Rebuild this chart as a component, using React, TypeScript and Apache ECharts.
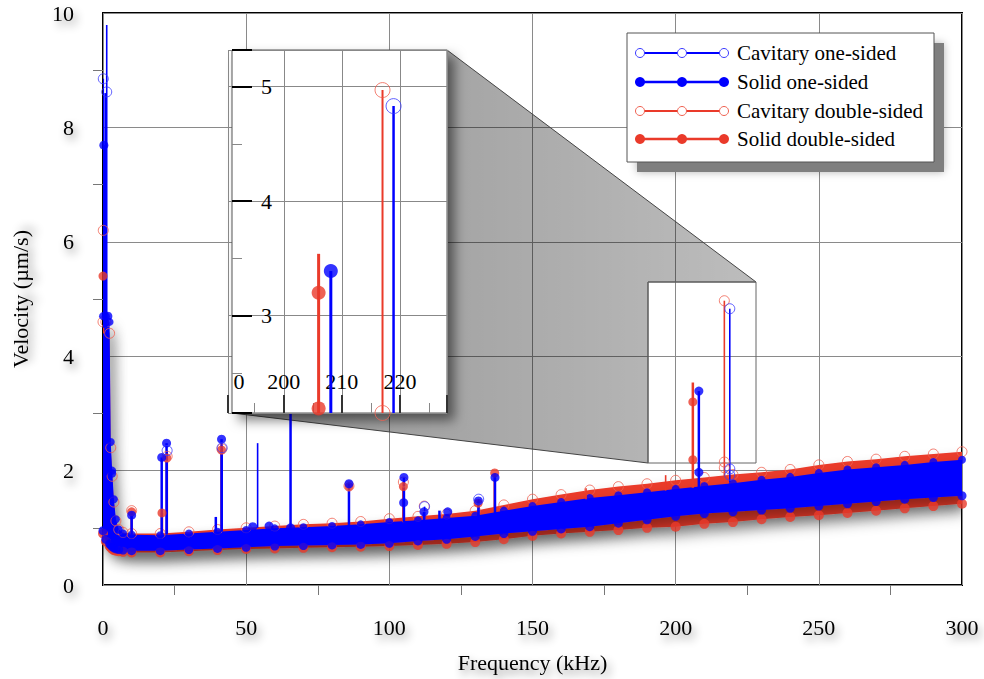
import React, { useEffect, useRef } from 'react';
import * as echarts from 'echarts';

const FONT = '"Liberation Serif", "Times New Roman", serif';
const BLUE = '#0000ff';
const BLUE_OPEN = '#3a3aff';
const RED = '#ea3a2a';
const RED_OPEN = '#f06050';

const seriesNames = ['Cavitary one-sided', 'Solid one-sided', 'Cavitary double-sided', 'Solid double-sided'];

// Broadband floor envelopes (kHz, µm/s)
const bandFreq = [0, 1, 2.3, 2.7, 3.2, 3.8, 4.5, 5.5, 7, 10, 20, 30, 40, 50, 60, 70, 80, 90, 100, 110, 120, 130, 140, 150, 160, 170, 180, 190, 200, 210, 220, 230, 240, 250, 260, 270, 280, 290, 300];
const blueUpper = [4.7, 4.7, 4.6, 2.5, 2.0, 1.5, 1.15, 0.97, 0.9, 0.88, 0.87, 0.9, 0.93, 0.96, 0.99, 1.01, 1.03, 1.06, 1.1, 1.13, 1.17, 1.21, 1.3, 1.38, 1.45, 1.52, 1.57, 1.62, 1.68, 1.73, 1.78, 1.84, 1.89, 1.96, 2.02, 2.06, 2.1, 2.15, 2.19];
const blueLower = [0.95, 0.8, 0.72, 0.7, 0.67, 0.65, 0.63, 0.62, 0.61, 0.6, 0.6, 0.62, 0.64, 0.66, 0.68, 0.69, 0.7, 0.71, 0.73, 0.77, 0.8, 0.85, 0.9, 0.94, 0.98, 1.02, 1.08, 1.14, 1.2, 1.25, 1.28, 1.31, 1.34, 1.38, 1.42, 1.46, 1.5, 1.53, 1.56];
const redUpper = [4.6, 4.6, 4.4, 2.4, 1.9, 1.45, 1.12, 0.97, 0.92, 0.9, 0.9, 0.93, 0.97, 1.0, 1.03, 1.06, 1.08, 1.11, 1.16, 1.2, 1.24, 1.3, 1.4, 1.5, 1.58, 1.66, 1.72, 1.77, 1.83, 1.88, 1.93, 1.97, 2.02, 2.1, 2.16, 2.2, 2.25, 2.29, 2.33];
const redLower = [0.9, 0.76, 0.68, 0.66, 0.63, 0.61, 0.6, 0.59, 0.58, 0.57, 0.57, 0.59, 0.61, 0.63, 0.64, 0.65, 0.66, 0.67, 0.68, 0.7, 0.72, 0.75, 0.8, 0.86, 0.9, 0.93, 0.96, 1.0, 1.02, 1.07, 1.1, 1.15, 1.19, 1.22, 1.26, 1.3, 1.34, 1.38, 1.42];

// Peaks: stems [freq, base, top] and markers [freq, value]
const cavOneStems = [[0.1, 4.5, 8.85], [1.3, 4.5, 9.79], [22.4, 0.9, 2.35], [41.6, 0.95, 2.4], [54.0, 1.0, 2.48], [112.3, 1.15, 1.37], [131.2, 1.2, 1.5], [218.9, 1.8, 4.83]];
const cavOneMarks = [[0.1, 8.85], [1.3, 8.62], [22.4, 2.35], [41.6, 2.4], [112.3, 1.37], [131.2, 1.5], [218.9, 4.83], [218.9, 2.03], [218.9, 1.92]];

const solidOneStems = [[0.3, 4.5, 7.69], [0.9, 4.5, 8.6], [10.0, 0.88, 1.22], [20.5, 0.88, 2.23], [22.2, 0.88, 2.48], [39.4, 0.93, 1.19], [41.4, 0.93, 2.55], [65.5, 1.0, 3.6], [85.9, 1.05, 1.77], [105.1, 1.1, 1.88], [112.1, 1.13, 1.28], [117.5, 1.15, 1.3], [131.1, 1.2, 1.47], [136.9, 1.25, 1.88], [208.1, 1.7, 3.39]];
const solidOneMarks = [[0.3, 7.69], [1.7, 4.7], [3.0, 1.95], [10.0, 1.22], [20.5, 2.23], [22.2, 2.48], [41.4, 2.55], [52.3, 1.02], [58.0, 1.03], [65.5, 1.0], [85.9, 1.77], [105.1, 1.88], [105.0, 1.44], [112.1, 1.28], [120.4, 1.28], [131.1, 1.47], [136.9, 1.88], [208.1, 3.39], [208.1, 1.97]];

const cavDoubleStems = [[0.1, 4.4, 6.2], [22.4, 0.9, 2.25], [104.9, 1.1, 1.8], [168.7, 1.5, 1.69], [196.5, 1.65, 1.92], [217.0, 1.8, 4.97]];
const cavDoubleMarks = [[0.1, 6.2], [10.0, 1.3], [22.4, 2.25], [41.5, 2.38], [85.9, 1.73], [104.9, 1.8], [112.2, 1.38], [217.0, 4.97], [217.0, 2.15], [217.0, 2.05]];

const solidDoubleStems = [[0.0, 4.4, 5.4], [10.0, 0.9, 1.28], [20.6, 0.9, 1.26], [22.3, 0.9, 2.22], [41.4, 0.95, 2.36], [104.9, 1.1, 1.72], [136.8, 1.3, 1.96], [206.0, 1.7, 3.54]];
const solidDoubleMarks = [[0.0, 5.4], [10.0, 1.28], [20.6, 1.26], [22.3, 2.22], [41.4, 2.36], [85.9, 1.72], [104.9, 1.72], [131.0, 1.43], [136.8, 1.96], [206.0, 3.2], [206.0, 2.19]];

const mainXTicks = { min: 0, max: 300, interval: 50 };
const mainYTicks = { min: 0, max: 10, interval: 2 };
const insetX = { min: 190.4, max: 228.1 };
const insetY = { min: 2.15, max: 5.32 };

const textShadow = {
  textShadowColor: 'rgba(0,0,0,0.45)',
  textShadowBlur: 8,
  textShadowOffsetX: 3,
  textShadowOffsetY: 5,
};
const lineShadow = {
  shadowColor: 'rgba(0,0,0,0.3)',
  shadowBlur: 6,
  shadowOffsetX: 3,
  shadowOffsetY: 4,
};

function bandSeries(upper: number[], lower: number[], fill: string, z: number) {
  return {
    type: 'custom',
    xAxisIndex: 0,
    yAxisIndex: 0,
    clip: true,
    silent: true,
    z,
    data: [[150, 1]],
    renderItem: (_p: any, api: any) => {
      const pts: number[][] = [];
      for (let i = 0; i < bandFreq.length; i++) pts.push(api.coord([bandFreq[i], upper[i]]));
      for (let i = bandFreq.length - 1; i >= 0; i--) pts.push(api.coord([bandFreq[i], lower[i]]));
      return {
        type: 'polygon',
        shape: { points: pts },
        style: { fill, shadowBlur: 14, shadowColor: 'rgba(0,0,0,0.4)', shadowOffsetX: 3, shadowOffsetY: 9 },
      };
    },
  };
}

function edgeSeries(upperOrLower: number[], color: string, filled: boolean, size: number, z: number) {
  return {
    type: 'scatter',
    xAxisIndex: 0,
    yAxisIndex: 0,
    clip: true,
    silent: true,
    z,
    symbol: 'circle',
    symbolSize: size,
    data: bandFreq.map((f, i) => [f, upperOrLower[i]]),
    itemStyle: filled ? { color } : { color: 'rgba(255,255,255,0)', borderColor: color, borderWidth: 1 },
  };
}

function stemSeries(stems: number[][], color: string, width: number, axis: number, z: number) {
  return {
    type: 'custom',
    xAxisIndex: axis,
    yAxisIndex: axis,
    clip: true,
    silent: true,
    z,
    data: stems,
    encode: { x: 0, y: [1, 2] },
    renderItem: (_p: any, api: any) => {
      const a = api.coord([api.value(0), api.value(1)]);
      const b = api.coord([api.value(0), api.value(2)]);
      return {
        type: 'rect',
        shape: { x: a[0] - width / 2, y: b[1], width, height: Math.max(0.5, a[1] - b[1]) },
        style: { fill: color },
      };
    },
  };
}

function markSeries(name: string, marks: number[][], filled: boolean, color: string, size: number, axis: number, z: number) {
  return {
    name,
    type: 'scatter',
    xAxisIndex: axis,
    yAxisIndex: axis,
    clip: true,
    silent: true,
    z,
    symbol: 'circle',
    symbolSize: size,
    data: marks,
    itemStyle: filled ? { color } : { color: 'rgba(255,255,255,0)', borderColor: color, borderWidth: 1 },
  };
}

function legendGraphic() {
  const rows = [
    { name: seriesNames[0], color: BLUE, open: BLUE_OPEN, filled: false, lw: 2 },
    { name: seriesNames[1], color: BLUE, open: BLUE, filled: true, lw: 2.5 },
    { name: seriesNames[2], color: RED, open: RED_OPEN, filled: false, lw: 2 },
    { name: seriesNames[3], color: RED, open: RED, filled: true, lw: 2.5 },
  ];
  const ys = [53, 82, 111, 139];
  const children: any[] = [
    { type: 'rect', shape: { x: 637, y: 43, width: 307, height: 129 }, style: { fill: '#7f7f7f', shadowBlur: 8, shadowColor: 'rgba(0,0,0,0.3)' }, z: 20 },
    { type: 'rect', shape: { x: 627, y: 33, width: 307, height: 129 }, style: { fill: '#fff', stroke: '#555', lineWidth: 1 }, z: 21 },
  ];
  rows.forEach((r, i) => {
    const y = ys[i];
    children.push({ type: 'line', shape: { x1: 640, y1: y, x2: 724, y2: y }, style: { stroke: r.color, lineWidth: r.lw }, z: 22 });
    [640, 682, 724].forEach((cx) => {
      children.push({
        type: 'circle',
        shape: { cx, cy: y, r: r.filled ? 5 : 4.5 },
        style: r.filled ? { fill: r.color } : { fill: '#fff', stroke: r.open, lineWidth: 1 },
        z: 23,
      });
    });
    children.push({
      type: 'text',
      x: 737,
      y,
      style: { text: r.name, font: `21px ${FONT}`, fill: '#000', align: 'left', verticalAlign: 'middle', textAlign: 'left', textVerticalAlign: 'middle' },
      z: 23,
    });
  });
  return children;
}

export default function App() {
  const ref = useRef<HTMLDivElement>(null);
  useEffect(() => {
    if (!ref.current) return;
    const chart = echarts.init(ref.current, undefined, { renderer: 'svg' });

    const axisLabelMain = { fontFamily: FONT, fontSize: 22, color: '#000', ...textShadow };

    const option: any = {
      animation: false,
      backgroundColor: '#fff',
      grid: [
        { left: 103, right: 22, top: 13, bottom: 94, show: true, borderColor: '#000', borderWidth: 2, backgroundColor: 'rgba(0,0,0,0)' },
        { left: 228, top: 50, width: 219, height: 363, show: false },
      ],
      xAxis: [
        {
          type: 'value',
          gridIndex: 0,
          ...mainXTicks,
          name: 'Frequency (kHz)',
          nameLocation: 'middle',
          nameGap: 66,
          nameTextStyle: { fontFamily: FONT, fontSize: 22, color: '#000', ...textShadow },
          axisLine: { show: true, onZero: false, lineStyle: { color: '#000', width: 2, ...lineShadow } },
          axisTick: { show: true, length: 19, lineStyle: { color: '#000', width: 2, ...lineShadow } },
          minorTick: { show: true, splitNumber: 2, length: 10, lineStyle: { color: '#777', width: 1 } },
          axisLabel: { ...axisLabelMain, margin: 31 },
          splitLine: { show: true, lineStyle: { color: '#8a8a8a', width: 1 } },
          z: 0,
        },
        {
          type: 'value',
          gridIndex: 1,
          ...insetX,
          splitNumber: 4,
          axisLine: { show: false },
          axisTick: { show: true, inside: true, length: 18, lineStyle: { color: '#333', width: 2 } },
          minorTick: { show: true, splitNumber: 2, length: 10, lineStyle: { color: '#888', width: 1 } },
          axisLabel: {
            inside: true,
            margin: 21,
            fontFamily: FONT,
            fontSize: 22,
            color: '#000',
            formatter: (v: number) => (v < 195 ? '{h|19}0' : v > 225 ? '' : String(Math.round(v))),
            rich: { h: { color: 'rgba(0,0,0,0)', fontFamily: FONT, fontSize: 22 } },
          },
          splitLine: { show: true, lineStyle: { color: '#888', width: 1 } },
          z: 6,
        },
      ],
      yAxis: [
        {
          type: 'value',
          gridIndex: 0,
          ...mainYTicks,
          name: 'Velocity (µm/s)',
          nameLocation: 'middle',
          nameGap: 72,
          nameRotate: 90,
          nameTextStyle: { fontFamily: FONT, fontSize: 22, color: '#000', ...textShadow },
          axisLine: { show: true, onZero: false, lineStyle: { color: '#000', width: 2, ...lineShadow } },
          axisTick: { show: true, length: 20, lineStyle: { color: '#000', width: 2, ...lineShadow } },
          minorTick: { show: true, splitNumber: 2, length: 10, lineStyle: { color: '#777', width: 1 } },
          axisLabel: { ...axisLabelMain, margin: 29 },
          splitLine: { show: true, lineStyle: { color: '#8a8a8a', width: 1 } },
          z: 0,
        },
        {
          type: 'value',
          gridIndex: 1,
          ...insetY,
          splitNumber: 3,
          offset: -4,
          axisLine: { show: false },
          axisTick: { show: true, inside: true, length: 20, lineStyle: { color: '#000', width: 2 } },
          minorTick: { show: true, splitNumber: 2, length: 10, lineStyle: { color: '#888', width: 1 } },
          axisLabel: {
            inside: true,
            margin: 29,
            fontFamily: FONT,
            fontSize: 22,
            color: '#000',
            formatter: (v: number) => (Math.abs(v - Math.round(v)) < 1e-6 ? String(Math.round(v)) : ''),
          },
          splitLine: { show: true, lineStyle: { color: '#888', width: 1 } },
          z: 6,
        },
      ],
      graphic: [
        {
          type: 'polygon',
          shape: { points: [[447, 50], [756, 282], [648, 282], [648, 463], [232, 413]] },
          style: {
            fill: new echarts.graphic.LinearGradient(0, 0, 1, 0, [
              { offset: 0, color: 'rgba(0,0,0,0.42)' },
              { offset: 1, color: 'rgba(0,0,0,0.26)' },
            ]),
            stroke: '#444',
            lineWidth: 1,
          },
          z: 1,
          silent: true,
        },
        {
          type: 'rect',
          shape: { x: 648, y: 282, width: 108, height: 181 },
          style: { fill: 'rgba(0,0,0,0)', stroke: '#666', lineWidth: 1 },
          z: 1,
          silent: true,
        },
        {
          type: 'rect',
          shape: { x: 232, y: 50, width: 215, height: 363 },
          style: { fill: '#fff', stroke: '#555', lineWidth: 1, shadowBlur: 12, shadowColor: 'rgba(0,0,0,0.5)', shadowOffsetX: 7, shadowOffsetY: 7 },
          z: 5,
          silent: true,
        },
        ...legendGraphic(),
      ],
      series: [
        // broadband floor
        bandSeries(redUpper, redLower, RED, 2),
        edgeSeries(redLower, RED, true, 10, 2),
        edgeSeries(redUpper, RED_OPEN, false, 10, 2),
        bandSeries(blueUpper, blueLower, BLUE, 2),
        edgeSeries(blueLower, BLUE, true, 9, 2),
        edgeSeries(blueUpper, BLUE, true, 8, 2),
        // main peaks
        stemSeries(solidDoubleStems, RED, 2.5, 0, 3),
        stemSeries(cavDoubleStems, RED, 1.6, 0, 3),
        markSeries(seriesNames[3], solidDoubleMarks, true, RED, 9, 0, 3),
        markSeries(seriesNames[2], cavDoubleMarks, false, RED_OPEN, 10, 0, 3),
        stemSeries(solidOneStems, BLUE, 2.5, 0, 3),
        stemSeries(cavOneStems, BLUE, 1.6, 0, 3),
        markSeries(seriesNames[1], solidOneMarks, true, BLUE, 9, 0, 3),
        markSeries(seriesNames[0], cavOneMarks, false, BLUE_OPEN, 10, 0, 3),
        // inset peaks
        stemSeries(solidDoubleStems, RED, 3, 1, 8),
        stemSeries(cavDoubleStems, RED, 2, 1, 8),
        markSeries(seriesNames[3], solidDoubleMarks, true, RED, 14, 1, 8),
        markSeries(seriesNames[2], cavDoubleMarks, false, RED_OPEN, 15, 1, 8),
        stemSeries(solidOneStems, BLUE, 3, 1, 8),
        stemSeries(cavOneStems, BLUE, 2.5, 1, 8),
        markSeries(seriesNames[1], solidOneMarks, true, BLUE, 14, 1, 8),
        markSeries(seriesNames[0], cavOneMarks, false, BLUE_OPEN, 15, 1, 8),
      ],
    };
    chart.setOption(option);
    return () => chart.dispose();
  }, []);
  return <div ref={ref} style={{ position: 'fixed', left: 0, top: 0, width: 984, height: 679, background: '#fff' }} />;
}
